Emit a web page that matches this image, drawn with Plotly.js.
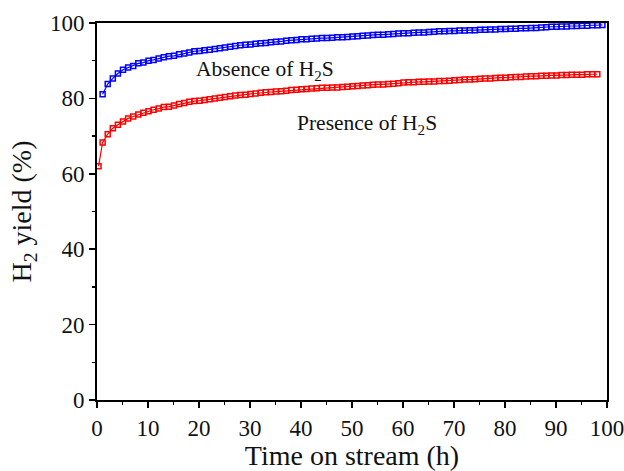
<!DOCTYPE html>
<html>
<head>
<meta charset="utf-8">
<script src="https://cdn.plot.ly/plotly-3.0.1.min.js"></script>
<style>html,body{margin:0;padding:0;background:#fff;}#chart{width:624px;height:471px;}</style>
</head>
<body>
<div id="chart"></div>
<script>
// Time on stream (h)
var timeH = [0.3,1.1,2.1,3.1,4.1,5.1,6.1,7.1,8.1,9.1,10.1,11.1,12.1,13.1,14.1,15.1,16.1,17.1,18.1,19.1,
  20.1,21.1,22.1,23.1,24.1,25.1,26.1,27.1,28.1,29.1,30.1,31.1,32.1,33.1,34.1,35.1,36.1,37.1,38.1,39.1,
  40.1,41.1,42.1,43.1,44.1,45.1,46.1,47.1,48.1,49.1,50.1,51.1,52.1,53.1,54.1,55.1,56.1,57.1,58.1,59.1,
  60.1,61.1,62.1,63.1,64.1,65.1,66.1,67.1,68.1,69.1,70.1,71.1,72.1,73.1,74.1,75.1,76.1,77.1,78.1,79.1,
  80.1,81.1,82.1,83.1,84.1,85.1,86.1,87.1,88.1,89.1,90.1,91.1,92.1,93.1,94.1,95.1,96.1,97.1,98.1,99.1];

// H2 yield (%) in absence of H2S
var absenceH2S = [null,81.1,83.8,85.3,86.6,87.6,88.2,88.6,89.3,89.5,90.0,90.2,90.6,90.9,91.2,91.3,91.7,91.9,92.2,92.5,
  92.6,92.8,92.9,93.1,93.3,93.5,93.7,93.9,94.1,94.2,94.3,94.5,94.6,94.7,94.9,95.0,95.1,95.3,95.4,95.5,
  95.7,95.7,95.8,95.9,96.0,96.0,96.1,96.2,96.2,96.3,96.4,96.5,96.6,96.7,96.8,96.9,96.9,97.0,97.1,97.2,
  97.3,97.3,97.4,97.5,97.5,97.6,97.7,97.8,97.8,97.9,97.9,98.0,98.0,98.1,98.1,98.2,98.2,98.3,98.3,98.4,
  98.4,98.5,98.5,98.6,98.6,98.7,98.7,98.8,98.9,99.0,99.0,99.1,99.1,99.2,99.2,99.3,99.3,99.4,99.4,99.5];

// H2 yield (%) in presence of H2S
var presenceH2S = [62.0,68.3,70.5,72.1,73.0,73.9,74.7,75.2,75.7,76.2,76.6,77.0,77.3,77.7,77.8,78.1,78.5,78.8,79.1,79.3,
  79.4,79.6,79.8,80.0,80.2,80.4,80.6,80.8,80.9,81.0,81.2,81.3,81.5,81.6,81.7,81.8,81.9,82.0,82.2,82.3,
  82.4,82.5,82.6,82.7,82.8,82.8,82.9,82.9,83.0,83.1,83.2,83.3,83.4,83.5,83.6,83.7,83.7,83.8,83.9,84.0,
  84.2,84.3,84.3,84.4,84.4,84.5,84.5,84.6,84.6,84.7,84.8,84.9,85.0,85.0,85.1,85.2,85.3,85.3,85.4,85.5,
  85.5,85.6,85.7,85.7,85.8,85.9,85.9,86.0,86.0,86.1,86.1,86.2,86.2,86.3,86.3,86.3,86.4,86.4,86.4,null];

var seriesLabels = ["Absence of H<sub>2</sub>S", "Presence of H<sub>2</sub>S"];
var xTitle = "Time on stream (h)";
var yTitle = "H<sub>2</sub> yield (%)";

var serif = "'Liberation Serif', 'Times New Roman', serif";

var traces = [
  {x: timeH, y: absenceH2S, mode: "lines+markers", name: seriesLabels[0],
   line: {color: "#0000ff", width: 1.2},
   marker: {symbol: "square-open", size: 5, color: "#0000ff", line: {width: 1.5, color: "#0000ff"}}},
  {x: timeH, y: presenceH2S, mode: "lines+markers", name: seriesLabels[1],
   line: {color: "#ff0000", width: 1.2},
   marker: {symbol: "square-open", size: 5, color: "#ff0000", line: {width: 1.5, color: "#ff0000"}}}
];

var axisCommon = {
  showline: true, linecolor: "#000", linewidth: 2, mirror: true,
  showgrid: false, zeroline: false,
  ticks: "outside", ticklen: 6, tickwidth: 1.5, tickcolor: "#000",
  ticklabeloverflow: "allow",
  tickfont: {family: serif, size: 23, color: "#111"}
};

var layout = {
  width: 624, height: 471,
  margin: {l: 97, r: 17, t: 23, b: 71},
  paper_bgcolor: "#fff", plot_bgcolor: "#fff",
  showlegend: false,
  xaxis: Object.assign({}, axisCommon, {
    range: [0, 100], tickvals: [0,10,20,30,40,50,60,70,80,90,100],
    minor: {dtick: 5, tick0: 0, ticks: "outside", ticklen: 3, tickwidth: 1.5, tickcolor: "#000"},
    title: {text: xTitle, font: {family: serif, size: 28, color: "#111"}, standoff: 4}
  }),
  yaxis: Object.assign({}, axisCommon, {
    range: [0, 100], tickvals: [0,20,40,60,80,100],
    minor: {dtick: 10, tick0: 0, ticks: "outside", ticklen: 3, tickwidth: 1.5, tickcolor: "#000"},
    title: {text: yTitle, font: {family: serif, size: 28, color: "#111"}, standoff: 10}
  }),
  annotations: [
    {x: 0.19, y: 0.875, xref: "paper", yref: "paper", xanchor: "left", yanchor: "middle",
     text: seriesLabels[0], showarrow: false, font: {family: serif, size: 21.5, color: "#111"}},
    {x: 0.388, y: 0.73, xref: "paper", yref: "paper", xanchor: "left", yanchor: "middle",
     text: seriesLabels[1], showarrow: false, font: {family: serif, size: 21.5, color: "#111"}}
  ]
};

Plotly.newPlot("chart", traces, layout, {displayModeBar: false, staticPlot: true});
</script>
</body>
</html>
